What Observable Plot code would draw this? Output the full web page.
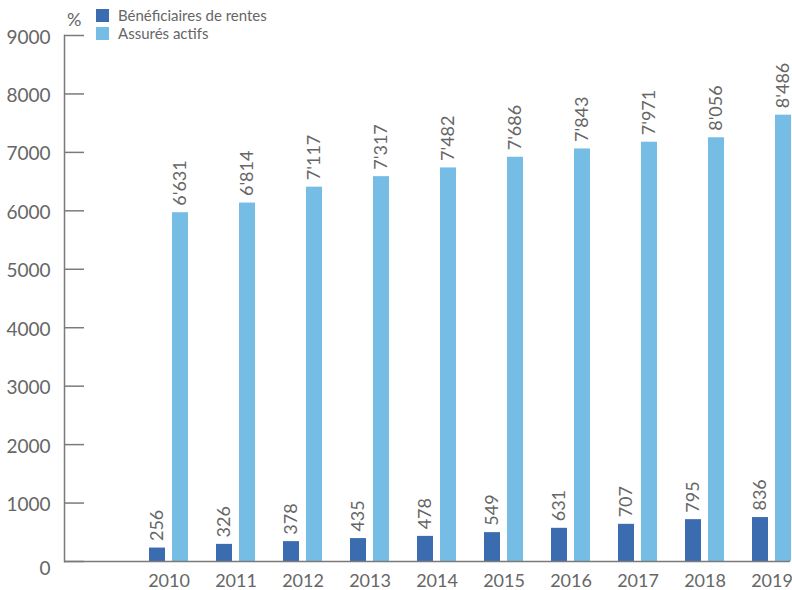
<!DOCTYPE html>
<html>
<head>
<meta charset="utf-8">
<script src="https://cdn.jsdelivr.net/npm/d3@7"></script>
<script src="https://cdn.jsdelivr.net/npm/@observablehq/plot@0.6"></script>
<style>
  body { margin: 0; background: #fff; font-family: Lato, "Open Sans", sans-serif; }
  #wrap { position: relative; width: 792px; height: 590px; }
  #legend { position: absolute; left: 0; top: 0; width: 792px; height: 60px; color: #666; }
  .sw { position: absolute; width: 13px; height: 13px; }
  .lt { position: absolute; font-size: 15px; line-height: 15px; }
  #pct { position: absolute; left: 67px; top: 8px; font-size: 18px; color: #666; }
</style>
</head>
<body>
<div id="wrap">
  <div id="chart"></div>
  <div id="legend">
    <div id="pct">%</div>
    <div class="sw" style="left:96px;top:9px;background:#3c6cb0"></div>
    <div class="lt" style="left:118px;top:8px">Bénéficiaires de rentes</div>
    <div class="sw" style="left:96px;top:27px;background:#76bde6"></div>
    <div class="lt" style="left:118px;top:26px">Assurés actifs</div>
  </div>
</div>
<script>
const years = ["2010","2011","2012","2013","2014","2015","2016","2017","2018","2019"];
// values printed on the bars
const beneficiaires = [256, 326, 378, 435, 478, 549, 631, 707, 795, 836];
const assures = [6631, 6814, 7117, 7317, 7482, 7686, 7843, 7971, 8056, 8486];
// bar heights
const barBeneficiaires = [230, 293, 340, 392, 430, 494, 568, 636, 716, 752];
const barAssures = [5968, 6133, 6405, 6585, 6734, 6917, 7059, 7174, 7250, 7637];
const yTicks = [0, 1000, 2000, 3000, 4000, 5000, 6000, 7000, 8000, 9000];

const dark = "#3c6cb0", light = "#76bde6", grey = "#666", axisGrey = "#7a7a7a";
const fmt = d3.formatLocale({decimal: ".", thousands: "'", grouping: [3], currency: ["", ""]}).format(",");

const rowsB = years.map((y, i) => ({year: y, h: barBeneficiaires[i], v: beneficiaires[i]}));
const rowsA = years.map((y, i) => ({year: y, h: barAssures[i], v: assures[i]}));

const W = 792, H = 590, ML = 64, MR = 0;
const chart = Plot.plot({
  width: W, height: H,
  marginLeft: ML, marginRight: MR, marginTop: 35, marginBottom: 29,
  style: {fontFamily: "Lato, 'Open Sans', sans-serif", background: "#fff"},
  x: {type: "band", domain: years, range: [134, 805], padding: 0, label: null},
  y: {domain: [0, 9000], label: null},
  marks: [
    Plot.barY(rowsB, {x: "year", y: "h", fill: dark, insetLeft: 14, insetRight: 37}),
    Plot.barY(rowsA, {x: "year", y: "h", fill: light, insetLeft: 37, insetRight: 14}),
    Plot.text(rowsB, {x: "year", y: "h", text: d => fmt(d.v), rotate: -90, textAnchor: "start", lineAnchor: "middle", dx: -11.5, dy: -7, fontSize: 18, fill: grey}),
    Plot.text(rowsA, {x: "year", y: "h", text: d => fmt(d.v), rotate: -90, textAnchor: "start", lineAnchor: "middle", dx: 11.5, dy: -7, fontSize: 18, fill: grey}),
    Plot.ruleY(yTicks, {y: d => d, stroke: axisGrey, strokeWidth: 1.5, insetRight: W - ML - MR - 20}),
    Plot.ruleY([0], {stroke: axisGrey, strokeWidth: 1.5, insetRight: 2}),
    Plot.frame({anchor: "left", stroke: axisGrey, strokeWidth: 1.5}),
    Plot.axisY(yTicks.slice(1), {anchor: "left", tickSize: 0, tickPadding: 14, fontSize: 19, fill: grey, dy: 2, label: null, tickFormat: d => String(d)}),
    Plot.axisY([0], {anchor: "left", tickSize: 0, tickPadding: 14, fontSize: 19, fill: grey, dy: 7, label: null, tickFormat: d => String(d)}),
    Plot.axisX({anchor: "bottom", tickSize: 0, tickPadding: 13, fontSize: 18, fill: grey, label: null})
  ]
});
document.getElementById("chart").appendChild(chart);
</script>
</body>
</html>
